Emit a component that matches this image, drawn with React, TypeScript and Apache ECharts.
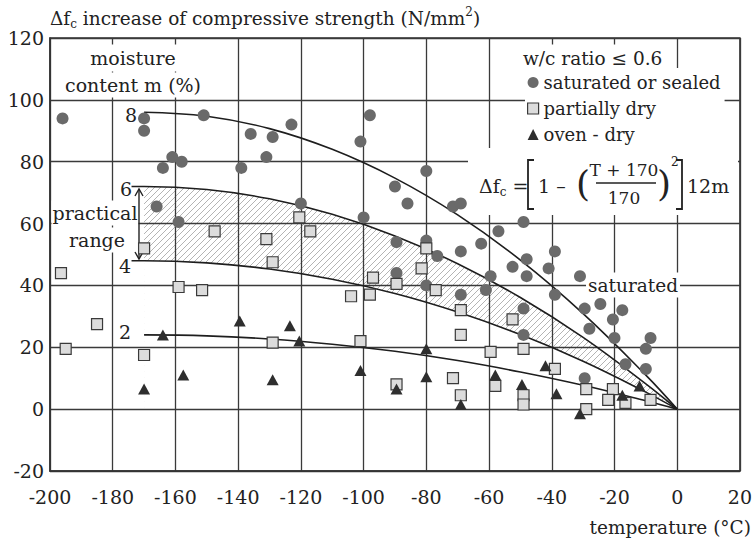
import React, { useEffect, useRef } from 'react';
import * as echarts from 'echarts';

const FONT = 'DejaVu Serif';
const FS = 19;

// x positions at which the model curves were read
const curveT = [-170, -150, -130, -110, -90, -70, -50, -30, -10, 0];
const leadT = -174;
// curves for moisture m = 8, 6, 4, 2 %
const curveM8 = [96, 94.7, 90.7, 84, 74.7, 62.8, 48.2, 30.9, 11, 0];
const curveM6 = [72, 71, 68, 63, 56, 47, 36.1, 23.2, 8.2, 0];
const curveM4 = [48, 47.3, 45.3, 42, 37.4, 31.4, 24.1, 15.5, 5.5, 0];
const curveM2 = [24, 23.7, 22.7, 21, 18.7, 15.7, 12, 7.7, 2.7, 0];

const saturated: [number, number][] = [
  [-196, 94], [-170, 94], [-170, 90], [-151, 95], [-136, 89], [-129, 88], [-123, 92],
  [-131, 81.5], [-161, 81.5], [-158, 80], [-164, 78], [-139, 78], [-166, 65.5], [-159, 60.5],
  [-120, 66.5], [-100, 62], [-98, 95], [-101, 86.5], [-80, 77], [-90, 72], [-86, 66.5],
  [-71.5, 65.5], [-69, 66.5], [-57, 57.5], [-49, 60.5], [-62.5, 53.5], [-69, 51], [-89.5, 54],
  [-80, 54.5], [-76.5, 49.5], [-52.5, 46], [-48, 48.5], [-39, 51], [-41, 45.5], [-48, 43],
  [-31, 43], [-89.5, 44], [-59.5, 43], [-80, 40], [-69, 37], [-61, 38.5], [-39, 37],
  [-49, 32.5], [-29.5, 32.5], [-24.5, 34], [-17.5, 32], [-20.5, 29], [-28, 26], [-49, 24],
  [-20, 23], [-8.5, 23], [-10, 19.5], [-16.5, 14.5], [-10, 13], [-29.5, 10],
];

const partiallyDry: [number, number][] = [
  [-196.5, 44], [-170, 52], [-147.5, 57.5], [-131, 55], [-129, 47.5], [-120.5, 62], [-117, 57.5],
  [-97, 42.5], [-104, 36.5], [-98, 37], [-159, 39.5], [-151.5, 38.5], [-185, 27.5], [-195, 19.5],
  [-170, 17.5], [-129, 21.5], [-101, 22], [-89.5, 40.5], [-77, 38.5], [-69, 32], [-69, 24],
  [-59.5, 18.5], [-52.5, 29], [-89.5, 8], [-71.5, 10], [-69, 4.5], [-58, 7.5], [-80, 52],
  [-81.5, 45.5], [-49, 19.5], [-39, 13], [-49, 4.5], [-49, 1.5], [-29, 6.5], [-29, 0],
  [-20.5, 6.5], [-22, 3], [-16.5, 2], [-8.5, 3],
];

const ovenDry: [number, number][] = [
  [-170, 6.5], [-164, 24], [-157.5, 11], [-139.5, 28.5], [-129, 9.5], [-123.5, 27], [-120.5, 22],
  [-101, 12.5], [-89.5, 6.5], [-80, 19.5], [-80, 10.5], [-69, 1.5], [-58, 11], [-49.5, 8],
  [-42, 14], [-38.5, 5], [-31, -1.5], [-17.5, 4.5], [-12, 7.5],
];

const seriesNames = ['saturated or sealed', 'partially dry', 'oven - dry'];

function zip(xs: number[], ys: number[]) {
  return xs.map((x, i) => [x, ys[i]]);
}

export default function App() {
  const ref = useRef<HTMLDivElement>(null);
  useEffect(() => {
    if (!ref.current) return;
    const chart = echarts.init(ref.current, undefined, { renderer: 'svg' });

    const cv = document.createElement('canvas');
    cv.width = 6;
    cv.height = 6;
    const ctx = cv.getContext('2d');
    if (ctx) {
      ctx.strokeStyle = '#b4b4b4';
      ctx.lineWidth = 1;
      ctx.beginPath();
      ctx.moveTo(0, 6); ctx.lineTo(6, 0);
      ctx.moveTo(-1, 1); ctx.lineTo(1, -1);
      ctx.moveTo(5, 7); ctx.lineTo(7, 5);
      ctx.stroke();
    }
    const hatch: any = { image: cv.toDataURL(), repeat: 'repeat', imageWidth: 6, imageHeight: 6 };

    const lineCommon = {
      type: 'line' as const,
      symbol: 'none',
      smooth: 0.4,
      silent: true,
      z: 4,
      lineStyle: { color: '#1e1e1e', width: 1.6 },
    };

    const txt = (text: string, x: number, y: number, extra: any = {}) => ({
      type: 'text',
      x,
      y,
      z: 5,
      style: {
        text,
        fontFamily: FONT,
        fontSize: FS,
        fill: '#222',
        align: 'left',
        verticalAlign: 'middle',
        ...extra,
      },
    });

    const richBase = (size: number) => ({
      a: { fontFamily: FONT, fontSize: size, fill: '#222', lineHeight: 24 },
      s: { fontFamily: FONT, fontSize: 12, fill: '#222', lineHeight: 12, verticalAlign: 'bottom' },
      p: { fontFamily: FONT, fontSize: 12, fill: '#222', lineHeight: 12, verticalAlign: 'top' },
    });

    const graphic: any[] = [
      {
        type: 'text', x: 50, y: 18, z: 5,
        style: {
          text: '{a|Δf}{s|c}{a| increase of compressive strength (N/mm}{p|2}{a|)}',
          rich: richBase(18.5), verticalAlign: 'middle', align: 'left',
        },
      },
      txt('temperature (°C)', 751, 527, { align: 'right', fontSize: 18.5 }),
      txt('moisture', 133, 58, { align: 'center', backgroundColor: '#fff', padding: [4, 4] }),
      txt('content m (%)', 133, 85, { align: 'center', backgroundColor: '#fff', padding: [3, 4] }),
      txt('8', 131, 115, { align: 'center' }),
      txt('6', 126, 189, { align: 'center' }),
      txt('4', 125, 266, { align: 'center' }),
      txt('2', 125, 332, { align: 'center' }),
      txt('practical', 95, 213, { align: 'center', backgroundColor: '#fff', padding: [3, 1] }),
      txt('range', 97, 240, { align: 'center', backgroundColor: '#fff', padding: [3, 3] }),
      { type: 'line', z: 5, shape: { x1: 139, y1: 189, x2: 139, y2: 259 }, style: { stroke: '#222', lineWidth: 1.4 } },
      { type: 'polyline', z: 5, shape: { points: [[135, 196], [139, 189], [143, 196]] }, style: { stroke: '#222', lineWidth: 1.4, fill: 'none' } },
      { type: 'polyline', z: 5, shape: { points: [[135, 252], [139, 259], [143, 252]] }, style: { stroke: '#222', lineWidth: 1.4, fill: 'none' } },
      txt('w/c ratio ≤ 0.6', 519, 58, { backgroundColor: '#fff', padding: [4, 4], fontSize: 18.5 }),
      txt('saturated', 633, 285, { align: 'center', backgroundColor: '#fff', padding: [3, 2], fontSize: 18.5 }),
      { type: 'rect', z: 5, shape: { x: 468, y: 148, width: 270, height: 67 }, style: { fill: '#fff' } },
      {
        type: 'text', x: 479, y: 186, z: 5,
        style: { text: '{a|Δf}{s|c}{a| =}', rich: richBase(FS), verticalAlign: 'middle', align: 'left' },
      },
      { type: 'polyline', z: 5, shape: { points: [[534, 160], [528, 160], [528, 209], [534, 209]] }, style: { stroke: '#222', lineWidth: 1.8, fill: 'none' } },
      txt('1 –', 538, 186),
      txt('(', 576, 183, { fontSize: 36 }),
      txt('T + 170', 624, 170, { align: 'center', fontSize: 17 }),
      { type: 'line', z: 5, shape: { x1: 596, y1: 183, x2: 656, y2: 183 }, style: { stroke: '#222', lineWidth: 1.3 } },
      txt('170', 624, 198, { align: 'center', fontSize: 17 }),
      txt(')', 657, 183, { fontSize: 36 }),
      txt('2', 671, 162, { fontSize: 12 }),
      { type: 'polyline', z: 5, shape: { points: [[676, 160], [682, 160], [682, 209], [676, 209]] }, style: { stroke: '#222', lineWidth: 1.8, fill: 'none' } },
      txt('12m', 687, 186),
    ];

    chart.setOption({
      animation: false,
      backgroundColor: '#fff',
      grid: { left: 50, right: 15, top: 38, bottom: 72, show: true, borderColor: '#333', borderWidth: 1.5, z: 3 },
      xAxis: {
        type: 'value', min: -200, max: 20, interval: 20, z: 3,
        axisLine: { show: true, onZero: false, lineStyle: { color: '#333', width: 1.5 } },
        axisTick: { show: false },
        splitLine: { show: true, lineStyle: { color: '#3a3a3a', width: 1.3 } },
        axisLabel: { fontFamily: FONT, fontSize: FS, color: '#222', margin: 16 },
      },
      yAxis: {
        type: 'value', min: -20, max: 120, interval: 20, z: 3,
        axisLine: { show: true, onZero: false, lineStyle: { color: '#333', width: 1.5 } },
        axisTick: { show: false },
        splitLine: { show: true, lineStyle: { color: '#3a3a3a', width: 1.3 } },
        axisLabel: { fontFamily: FONT, fontSize: FS, color: '#222', margin: 6 },
      },
      legend: {
        orient: 'vertical', left: 525, top: 68, padding: [2, 4, 2, 2], z: 5,
        backgroundColor: '#fff', itemWidth: 11, itemHeight: 11, itemGap: 1,
        selectedMode: false,
        textStyle: { fontFamily: FONT, fontSize: 18, color: '#222', lineHeight: 25 },
        data: [
          { name: seriesNames[0] },
          { name: seriesNames[1], itemStyle: { borderColor: '#3a3a3a', borderWidth: 1.2 } },
          { name: seriesNames[2] },
        ],
      },
      graphic,
      series: [
        {
          ...lineCommon, name: 'band-top', z: 1,
          lineStyle: { opacity: 0 }, areaStyle: { color: hatch, opacity: 1 },
          data: zip(curveT, curveM6),
        },
        {
          ...lineCommon, name: 'band-bottom', z: 2,
          lineStyle: { opacity: 0 }, areaStyle: { color: '#fff', opacity: 1 },
          data: zip(curveT, curveM4),
        },
        { ...lineCommon, name: 'm=8', data: zip(curveT, curveM8) },
        { ...lineCommon, name: 'm=6', data: [[leadT, curveM6[0]], ...zip(curveT, curveM6)] },
        { ...lineCommon, name: 'm=4', data: [[leadT, curveM4[0]], ...zip(curveT, curveM4)] },
        { ...lineCommon, name: 'm=2', data: zip(curveT, curveM2) },
        {
          name: seriesNames[0], type: 'scatter', symbol: 'circle', symbolSize: 12, z: 6,
          itemStyle: { color: '#6a6a6a', opacity: 1 }, data: saturated,
        },
        {
          name: seriesNames[1], type: 'scatter', symbol: 'rect', symbolSize: 11, z: 6,
          itemStyle: { color: '#dcdcdc', borderColor: '#3a3a3a', borderWidth: 1.2, opacity: 1 }, data: partiallyDry,
        },
        {
          name: seriesNames[2], type: 'scatter', symbol: 'triangle', symbolSize: [12, 11], z: 6,
          itemStyle: { color: '#2e2e2e', opacity: 1 }, data: ovenDry,
        },
      ],
    });
    return () => chart.dispose();
  }, []);
  return (
    <div
      ref={ref}
      style={{ position: 'absolute', left: 0, top: 0, width: 755, height: 543, background: '#fff' }}
    />
  );
}
